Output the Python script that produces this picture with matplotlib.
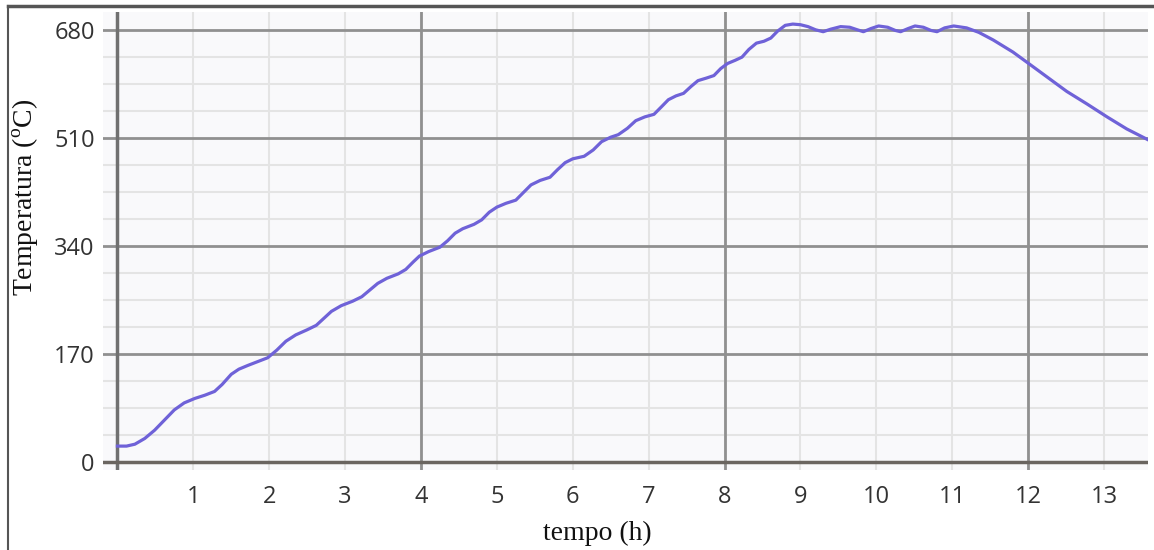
import matplotlib
matplotlib.use('Agg')
import matplotlib.pyplot as plt
from matplotlib.lines import Line2D

plt.rcParams['mathtext.fontset'] = 'custom'
plt.rcParams['mathtext.rm'] = 'Liberation Serif'

# tempo (h) / temperatura (C)
tempo = [0.0, 0.12, 0.23, 0.36, 0.49, 0.62, 0.75, 0.88, 1.02, 1.15, 1.28, 1.38,
         1.5, 1.6, 1.72, 1.85, 1.98, 2.1, 2.22, 2.35, 2.5, 2.62, 2.72, 2.82,
         2.95, 3.1, 3.22, 3.32, 3.43, 3.55, 3.7, 3.8, 3.9, 3.98, 4.1, 4.25,
         4.35, 4.45, 4.55, 4.7, 4.8, 4.9, 5.0, 5.12, 5.25, 5.35, 5.45, 5.57,
         5.7, 5.8, 5.9, 6.0, 6.15, 6.27, 6.38, 6.5, 6.6, 6.72, 6.83, 6.95,
         7.07, 7.17, 7.26, 7.36, 7.46, 7.56, 7.65, 7.76, 7.86, 7.95, 8.04, 8.14,
         8.23, 8.32, 8.42, 8.52, 8.61, 8.7, 8.8, 8.9, 9.0, 9.1, 9.2, 9.3,
         9.4, 9.53, 9.65, 9.75, 9.83, 9.93, 10.03, 10.15, 10.25, 10.32, 10.42, 10.51,
         10.62, 10.72, 10.8, 10.9, 11.02, 11.19, 11.35, 11.54, 11.8, 12.03, 12.27, 12.51,
         12.78, 13.04, 13.3, 13.58]
temperatura = [25, 25, 28, 37, 50, 66, 82, 93, 100, 105, 111, 122,
               138, 146, 152, 158, 164, 176, 190, 200, 208, 215, 226, 237,
               246, 253, 260, 270, 281, 289, 296, 303, 315, 324, 331, 338,
               348, 360, 367, 374, 381, 393, 401, 407, 412, 424, 436, 443,
               448, 460, 471, 477, 481, 491, 504, 511, 515, 525, 537, 543,
               547, 559, 570, 576, 580, 591, 600, 604, 608, 619, 627, 632,
               637, 649, 659, 662, 667, 678, 687, 689, 688, 685, 680, 677,
               681, 685, 684, 680, 677, 682, 686, 684, 679, 677, 682, 686,
               684, 679, 677, 683, 686, 683, 676, 664, 645, 625, 604, 583,
               563, 543, 524, 507]

x_ticks = list(range(1, 14))
y_ticks = [0, 170, 340, 510, 680]

fig = plt.figure(figsize=(11.54, 5.5), dpi=100)
ax = fig.add_axes([103 / 1154, 1 - 470 / 550, 1045 / 1154, 458 / 550])
ax.set_facecolor('#f9f9fb')

ax.set_xlim(-0.19, 13.58)
ax.set_ylim(-12.6, 708)

# grid
ax.set_xticks(x_ticks)
ax.set_xticklabels([str(v) for v in x_ticks])
ax.set_yticks(y_ticks)
ax.set_yticklabels([str(v) for v in y_ticks])
ax.set_yticks([v * 42.5 for v in range(17) if v % 4], minor=True)
ax.grid(which='major', axis='x', color='#e4e4e4', lw=1.5)
ax.grid(which='minor', axis='y', color='#e4e4e4', lw=1.5)
ax.grid(which='major', axis='y', color='#909090', lw=2)
for v in [4, 8, 12]:
    ax.axvline(v, color='#909090', lw=2, zorder=1)
ax.axvline(0, color='#707070', lw=2.5, zorder=1)
ax.axhline(0, color='#6a6560', lw=2.5, zorder=1)
ax.set_axisbelow(True)

ax.plot(tempo, temperatura, color='#6f62d8', lw=2.3, zorder=3,
        solid_joinstyle='round')

for s in ax.spines.values():
    s.set_visible(False)
ax.tick_params(which='both', length=0)
ax.tick_params(axis='y', pad=6, labelsize=17, labelcolor='#333333')
ax.tick_params(axis='x', pad=11, labelsize=17, labelcolor='#333333')
for lab in ax.get_xticklabels() + ax.get_yticklabels():
    lab.set_family('Open Sans')

fig.text(597 / 1154, 1 - 533 / 550, 'tempo (h)', family='Liberation Serif',
         fontsize=20, ha='center', va='center', color='#111111')
fig.text(26 / 1154, 1 - 197 / 550, r'Temperatura ($^{\mathrm{o}}$C)',
         family='Liberation Serif', fontsize=20, rotation=90,
         ha='center', va='center', color='#111111')

# outer frame (left and top edges)
fig.add_artist(Line2D([8 / 1154, 8 / 1154], [0, 1 - 6 / 550], color='#555555', lw=1.5))
fig.add_artist(Line2D([8 / 1154, 1], [1 - 6 / 550, 1 - 6 / 550], color='#555555', lw=2.5))

fig.savefig('out.png', dpi=100)
